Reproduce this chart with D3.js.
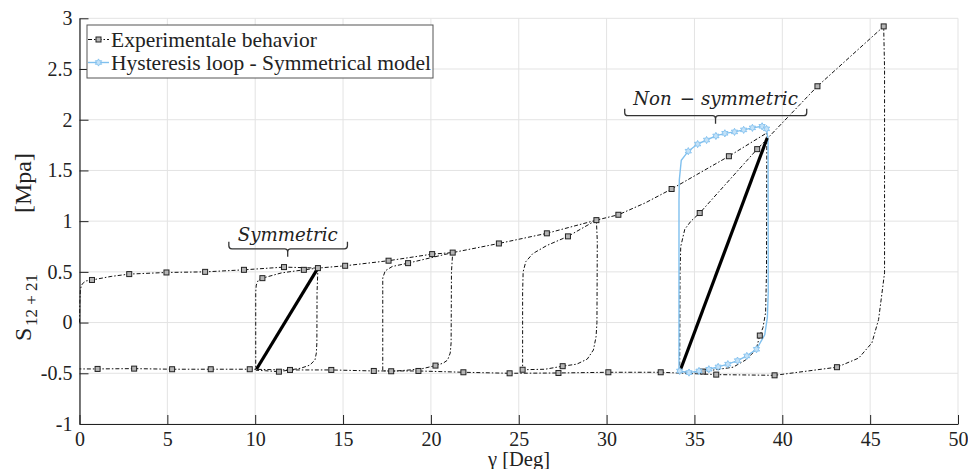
<!DOCTYPE html>
<html>
<head>
<meta charset="utf-8">
<script src="https://cdn.jsdelivr.net/npm/d3@7"></script>
<style>
  html, body { margin: 0; padding: 0; background: #fff; }
  svg { display: block; }
</style>
</head>
<body>
<svg id="chart" width="968" height="469"></svg>
<script>
// ---------------- DATA ----------------
const xTicks = [0, 5, 10, 15, 20, 25, 30, 35, 40, 45, 50];
const xTickLabels = ["0", "5", "10", "15", "20", "25", "30", "35", "40", "45", "50"];
const yTicks = [-1, -0.5, 0, 0.5, 1, 1.5, 2, 2.5, 3];
const yTickLabels = ["-1", "-0.5", "0", "0.5", "1", "1.5", "2", "2.5", "3"];

// Experimental behaviour: continuous path (gamma [deg], S [MPa])
const expGamma = [
  0, 0.02, 0.05, 0.15, 0.35, 0.71, 1.8, 2.83, 4.95, 7.15, 9.36, 11.64, 13.57,
  13.52, 13.51, 13.48, 13.4, 13.1, 12.6, 11.35, 10.6, 10.05,
  10.03, 10.03, 10.06, 10.18, 10.41, 11.5, 12.77, 13.57,
  15.12, 17.59, 20.07, 21.24,
  21.17, 21.15, 21.1, 20.95, 20.7, 20.26, 19.5, 18.6, 17.74, 17.26,
  17.26, 17.26, 17.4, 17.8, 18.7, 21.24,
  23.87, 26.6, 29.42,
  29.47, 29.45, 29.4, 29.25, 28.9, 28.3, 27.5, 26.5, 25.22,
  25.22, 25.25, 25.4, 25.8, 26.6, 27.8, 29.42,
  30.67, 32.2, 33.7, 36.96, 39.12,
  39.1, 39.05, 38.9, 38.72, 38.5, 37.9, 37.2, 35.48, 34.16,
  34.18, 34.22, 34.45, 34.8, 35.3, 38.57, 42.0, 45.77,
  45.82, 45.82, 45.48, 45.1, 44.35, 43.11, 39.56,
  36.24, 33.08, 30.1, 27.26, 24.48, 21.85, 19.29, 16.75, 14.33, 11.98,
  9.69, 7.47, 5.27, 3.11, 1.03, 0
];
const expS = [
  0, 0.2, 0.33, 0.38, 0.41, 0.42, 0.455, 0.478, 0.494, 0.5, 0.52, 0.547, 0.537,
  0.3, -0.2, -0.3, -0.37, -0.42, -0.45, -0.484, -0.475, -0.47,
  -0.46, 0.3, 0.37, 0.42, 0.438, 0.49, 0.52, 0.537,
  0.56, 0.61, 0.675, 0.69,
  0.5, -0.2, -0.3, -0.37, -0.4, -0.424, -0.455, -0.47, -0.48, -0.475,
  0.3, 0.44, 0.51, 0.553, 0.586, 0.69,
  0.78, 0.88, 1.01,
  0.8, 0.0, -0.14, -0.27, -0.36, -0.41, -0.43, -0.46, -0.465,
  0.3, 0.5, 0.6, 0.68, 0.76, 0.85, 1.01,
  1.063, 1.18, 1.317, 1.64, 1.87,
  0.5, 0.1, -0.05, -0.128, -0.27, -0.37, -0.44, -0.483, -0.49,
  0.5, 0.75, 0.92, 1.0, 1.08, 1.71, 2.33, 2.92,
  2.5, 0.49, 0.03, -0.2, -0.35, -0.44, -0.52,
  -0.513, -0.49, -0.49, -0.497, -0.5, -0.49, -0.477, -0.477, -0.467, -0.467,
  -0.46, -0.46, -0.46, -0.454, -0.457, -0.457
];
// Experimental markers (squares)
const expMarkGamma = [0.71, 2.83, 4.95, 7.15, 9.36, 11.64, 13.57, 15.12, 17.59, 20.07, 21.24,
  23.87, 26.6, 29.42, 30.67, 33.7, 36.96, 42.0, 45.77,
  10.41, 12.77, 18.7, 27.8, 35.3, 38.57,
  11.35, 17.74, 20.26, 25.22, 27.5, 35.48, 38.72,
  43.11, 39.56, 36.24, 33.08, 30.1, 27.26, 24.48, 21.85, 19.29, 16.75, 14.33, 11.98,
  9.69, 7.47, 5.27, 3.11, 1.03];
const expMarkS = [0.42, 0.478, 0.494, 0.5, 0.52, 0.547, 0.537, 0.56, 0.61, 0.675, 0.69,
  0.78, 0.88, 1.01, 1.063, 1.317, 1.64, 2.33, 2.92,
  0.438, 0.52, 0.586, 0.85, 1.08, 1.71,
  -0.484, -0.48, -0.424, -0.465, -0.43, -0.483, -0.128,
  -0.44, -0.52, -0.513, -0.49, -0.49, -0.497, -0.5, -0.49, -0.477, -0.477, -0.467, -0.467,
  -0.46, -0.46, -0.46, -0.454, -0.457];

// Hysteresis loop - symmetrical model
const modGamma = [34.12, 34.12, 34.14, 34.25, 34.65, 35.18, 35.69, 36.22, 36.73, 37.28, 37.8, 38.3, 38.85, 39.1,
  39.19, 39.2, 39.15, 39.0, 38.53, 37.98, 37.45, 36.9, 36.35, 35.82, 35.26, 34.69, 34.16, 34.12];
const modS = [-0.474, 1.2, 1.41, 1.6, 1.69, 1.76, 1.80, 1.84, 1.866, 1.88, 1.90, 1.92, 1.935, 1.91,
  1.8, 0.3, 0.05, -0.12, -0.263, -0.329, -0.375, -0.41, -0.437, -0.46, -0.477, -0.493, -0.477, -0.474];
const modMarkGamma = [34.65, 35.18, 35.69, 36.22, 36.73, 37.28, 37.8, 38.3, 38.85, 39.1,
  38.53, 37.98, 37.45, 36.9, 36.35, 35.82, 35.26, 34.69, 34.16];
const modMarkS = [1.69, 1.76, 1.80, 1.84, 1.866, 1.88, 1.90, 1.92, 1.935, 1.91,
  -0.263, -0.329, -0.375, -0.41, -0.437, -0.46, -0.477, -0.493, -0.477];

// Thick chords of the two loops
const chordGamma = [[10.07, 13.57], [34.2, 39.14]];
const chordS = [[-0.46, 0.537], [-0.467, 1.82]];

const legendLabels = ["Experimentale behavior", "Hysteresis loop - Symmetrical model"];
const annotations = [
  { parts: ["Symmetric"], g: 11.85, s: 0.808, g0: 8.5, g1: 15.25, sb: 0.727 },
  { parts: ["Non", "−", "symmetric"], g: 36.2, s: 2.15, g0: 31.03, g1: 41.39, sb: 2.04 }
];

// ---------------- DRAW ----------------
const SERIF = "Liberation Serif, Times New Roman, serif";
const svg = d3.select("#chart");
const L = 79.5, R = 958, T = 18.3, B = 424;
const x = d3.scaleLinear().domain([0, 50]).range([L, R]);
const y = d3.scaleLinear().domain([-1, 3]).range([B, T]);

// grid
const grid = svg.append("g");
grid.selectAll("line.gx").data(xTicks).enter().append("line")
  .attr("x1", d => x(d)).attr("x2", d => x(d)).attr("y1", T).attr("y2", B)
  .attr("stroke", "#e3e3e3").attr("stroke-width", 1);
grid.selectAll("line.gy").data(yTicks).enter().append("line")
  .attr("y1", d => y(d)).attr("y2", d => y(d)).attr("x1", L).attr("x2", R)
  .attr("stroke", "#e3e3e3").attr("stroke-width", 1);

// axes
const xMinor = d3.range(0, 51, 1);
const yMinor = d3.range(-10, 31, 1).map(v => v / 10);
const gx = svg.append("g").attr("transform", `translate(0,${B})`);
gx.call(d3.axisBottom(x).tickValues(xMinor).tickSize(-5).tickSizeOuter(0).tickFormat(""));
gx.call(d3.axisBottom(x).tickValues(xTicks).tickSizeInner(-9).tickSizeOuter(0).tickPadding(8)
  .tickFormat((d, i) => xTickLabels[i]));
const gy = svg.append("g").attr("transform", `translate(${L},0)`);
gy.call(d3.axisLeft(y).tickValues(yMinor).tickSize(-5).tickSizeOuter(0).tickFormat(""));
gy.call(d3.axisLeft(y).tickValues(yTicks).tickSizeInner(-9).tickSizeOuter(0).tickPadding(7)
  .tickFormat((d, i) => yTickLabels[i]));
svg.selectAll("g").attr("font-family", SERIF);
svg.selectAll(".tick text").attr("font-family", SERIF).attr("font-size", 20).attr("fill", "#222");
svg.selectAll(".domain").attr("stroke", "#222").attr("stroke-width", 1.2);
svg.selectAll(".tick line").attr("stroke", "#222");

// axis labels
svg.append("text").attr("x", 519).attr("y", 466).attr("text-anchor", "middle")
  .attr("font-family", SERIF).attr("font-size", 20.5).attr("fill", "#222").text("γ [Deg]");
const yl = svg.append("text").attr("transform", "translate(31,0) rotate(-90)")
  .attr("font-family", SERIF).attr("font-size", 24).attr("fill", "#222");
yl.append("tspan").attr("x", -341).text("S");
yl.append("tspan").attr("x", -326).attr("font-size", 17).attr("dy", 6).attr("xml:space", "preserve").text("12 + 21");
yl.append("tspan").attr("x", -213).attr("dy", -6).text("[Mpa]");

// experimental line
const line = d3.line().x(d => x(d[0])).y(d => y(d[1]));
const expPts = expGamma.map((g, i) => [g, expS[i]]);
svg.append("path").datum(expPts).attr("d", line)
  .attr("fill", "none").attr("stroke", "#111").attr("stroke-width", 1)
  .attr("stroke-dasharray", "4,2,1.5,2");

// model loop
const modPts = modGamma.map((g, i) => [g, modS[i]]);
svg.append("path").datum(modPts).attr("d", line)
  .attr("fill", "none").attr("stroke", "#80c0ee").attr("stroke-width", 1.4);

// chords
chordGamma.forEach((gs, i) => {
  svg.append("line")
    .attr("x1", x(gs[0])).attr("y1", y(chordS[i][0]))
    .attr("x2", x(gs[1])).attr("y2", y(chordS[i][1]))
    .attr("stroke", "#000").attr("stroke-width", 3.2);
});

// experimental markers
const sq = 5;
svg.append("g").selectAll("rect").data(expMarkGamma.map((g, i) => [g, expMarkS[i]])).enter()
  .append("rect")
  .attr("x", d => x(d[0]) - sq / 2).attr("y", d => y(d[1]) - sq / 2)
  .attr("width", sq).attr("height", sq)
  .attr("fill", "#b5b5b5").attr("stroke", "#222").attr("stroke-width", 1);

// model markers (small six-point stars)
function hexStar(r) {
  const pts = [];
  for (let k = 0; k < 12; k++) {
    const a = Math.PI / 6 * k - Math.PI / 2;
    const rr = k % 2 === 0 ? r : r * 0.55;
    pts.push([rr * Math.cos(a), rr * Math.sin(a)]);
  }
  return "M" + pts.map(p => p[0].toFixed(2) + "," + p[1].toFixed(2)).join("L") + "Z";
}
const starPath = hexStar(3.6);
svg.append("g").selectAll("path").data(modMarkGamma.map((g, i) => [g, modMarkS[i]])).enter()
  .append("path").attr("d", starPath)
  .attr("transform", d => `translate(${x(d[0])},${y(d[1])})`)
  .attr("fill", "#c4e2f8").attr("stroke", "#80c0ee").attr("stroke-width", 0.9);

// annotations with braces
const gaps = [0, 8, 6];
annotations.forEach(a => {
  const t = svg.append("text").attr("x", x(a.g)).attr("y", y(a.s)).attr("text-anchor", "middle")
    .attr("font-family", "DejaVu Serif, serif").attr("font-style", "italic")
    .attr("font-size", 18.2).attr("fill", "#222");
  a.parts.forEach((p, i) => {
    t.append("tspan").attr("dx", gaps[i]).text(p);
  });
  const xl = x(a.g0), xr = x(a.g1), xc = x(a.g), yh = y(a.sb);
  const r = 3;
  const p = `M${xl},${yh - 7} V${yh - r} Q${xl},${yh} ${xl + r},${yh} H${xc - r} Q${xc},${yh} ${xc},${yh + r} V${yh + 8}` +
            ` M${xc},${yh + r} Q${xc},${yh} ${xc + r},${yh} H${xr - r} Q${xr},${yh} ${xr},${yh - r} V${yh - 7}`;
  svg.append("path").attr("d", p).attr("fill", "none").attr("stroke", "#333").attr("stroke-width", 1.3);
});

// legend
const lg = svg.append("g");
lg.append("rect").attr("x", 87).attr("y", 25).attr("width", 346).attr("height", 53)
  .attr("fill", "#fff").attr("stroke", "#555").attr("stroke-width", 1);
const rows = [39.5, 62.5];
lg.append("line").attr("x1", 88).attr("x2", 109).attr("y1", rows[0]).attr("y2", rows[0])
  .attr("stroke", "#111").attr("stroke-width", 1).attr("stroke-dasharray", "4,2,1.5,2");
lg.append("rect").attr("x", 98.5 - sq / 2).attr("y", rows[0] - sq / 2).attr("width", sq).attr("height", sq)
  .attr("fill", "#b5b5b5").attr("stroke", "#222");
lg.append("line").attr("x1", 88).attr("x2", 109).attr("y1", rows[1]).attr("y2", rows[1])
  .attr("stroke", "#80c0ee").attr("stroke-width", 1.4);
lg.append("path").attr("d", starPath).attr("transform", `translate(98.5,${rows[1]})`)
  .attr("fill", "#c4e2f8").attr("stroke", "#80c0ee").attr("stroke-width", 0.9);
legendLabels.forEach((t, i) => {
  lg.append("text").attr("x", 111).attr("y", rows[i] + 7).attr("font-family", SERIF)
    .attr("font-size", 21.5).attr("fill", "#222").text(t);
});
</script>
</body>
</html>
